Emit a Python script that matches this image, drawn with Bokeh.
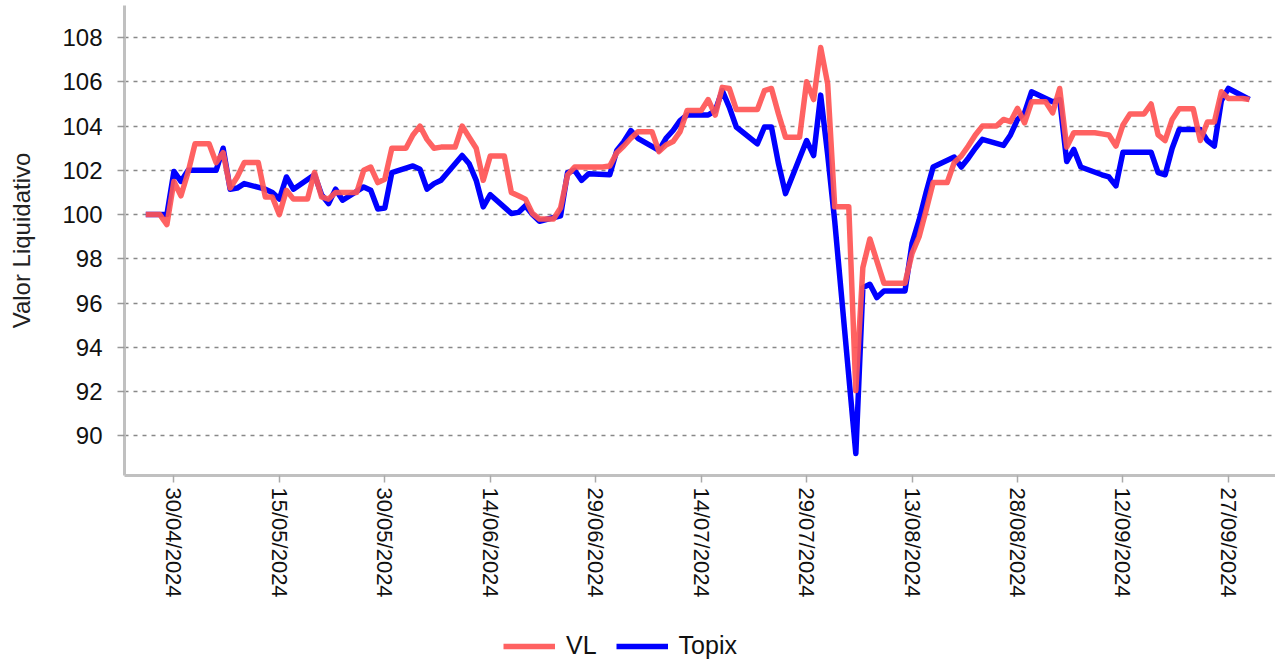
import pandas as pd
from bokeh.plotting import figure
from bokeh.layouts import column
from bokeh.models import (FixedTicker, DatetimeTickFormatter, Legend, LegendItem,
                          Range1d)
from bokeh.embed import file_html
from bokeh.resources import INLINE

# ---------------- data ----------------
# VL: one value per calendar day, 26/04/2024 .. 30/09/2024
vl_start = "2024-04-26"
vl_values = [
    # Apr 26-30
    100.0, 100.0, 100.0, 99.55, 101.5,
    # May
    100.85, 101.9, 103.2, 103.2, 103.2, 102.35, 102.8, 101.2, 101.7, 102.35,
    102.35, 102.35, 100.8, 100.8, 100.0, 101.1, 100.7, 100.7, 100.7, 101.9,
    100.8, 100.7, 101.0, 101.0, 101.0, 101.0, 102.0, 102.15, 101.45, 101.6,
    103.0,
    # Jun
    103.0, 103.0, 103.6, 104.0, 103.4, 103.0, 103.05, 103.05, 103.05, 104.0,
    103.5, 103.0, 101.55, 102.65, 102.65, 102.65, 101.0, 100.85, 100.7, 100.05,
    99.8, 99.8, 99.8, 100.3, 101.8, 102.15, 102.15, 102.15, 102.15, 102.15,
    # Jul
    102.2, 102.8, 103.1, 103.45, 103.75, 103.75, 103.75, 102.85, 103.15, 103.3,
    103.75, 104.7, 104.7, 104.7, 105.2, 104.5, 105.75, 105.7, 104.75, 104.75,
    104.75, 104.75, 105.6, 105.7, 104.55, 103.5, 103.5, 103.5, 106.0, 105.2,
    107.55,
    # Aug
    105.9, 100.35, 100.35, 100.35, 92.05, 97.6, 98.9, 97.9, 96.9, 96.9,
    96.9, 96.9, 98.25, 99.0, 100.2, 101.45, 101.45, 101.45, 102.35, 102.65,
    103.1, 103.6, 104.0, 104.0, 104.0, 104.3, 104.2, 104.8, 104.15, 105.1,
    105.1,
    # Sep
    105.1, 104.6, 105.7, 103.05, 103.7, 103.7, 103.7, 103.7, 103.65, 103.6,
    103.1, 104.05, 104.55, 104.55, 104.55, 105.0, 103.6, 103.35, 104.3, 104.78,
    104.78, 104.78, 103.35, 104.18, 104.18, 105.55, 105.25, 105.25, 105.25, 105.2,
]

# Topix: one value per weekday, 26/04/2024 .. 30/09/2024
topix_start = "2024-04-26"
topix_values = [
    # Apr 26, 29, 30
    100.0, 100.0, 101.95,
    # May
    101.5, 102.0, 102.0, 102.0, 103.0, 101.15, 101.2, 101.4, 101.15, 101.0,
    100.7, 101.7, 101.15, 101.8, 100.9, 100.5, 101.15, 100.65, 101.25, 101.1,
    100.25, 100.3, 101.9,
    # Jun
    102.2, 102.05, 101.15, 101.4, 101.55, 102.67, 102.3, 101.55, 100.35, 100.9,
    100.05, 100.1, 100.4, 100.0, 99.7, 99.95, 101.9, 102.0, 101.55, 101.85,
    # Jul
    101.8, 102.9, 103.3, 103.8, 103.45, 102.9, 103.45, 103.8, 104.25, 104.5,
    104.5, 104.7, 105.6, 104.86, 103.96, 103.2, 103.96, 103.96, 102.3, 100.95,
    103.35, 102.67, 105.4,
    # Aug
    102.7, 99.7, 89.2, 96.7, 96.85, 96.25, 96.55, 96.55, 98.7, 99.75,
    101.0, 102.15, 102.6, 102.15, 102.55, 103.0, 103.4, 103.13, 103.6, 104.3,
    104.6, 105.55,
    # Sep
    105.1, 105.2, 102.4, 102.95, 102.15, 101.8, 101.7, 101.3, 102.82, 102.82,
    102.82, 101.9, 101.8, 103.0, 103.85, 103.85, 103.35, 103.1, 105.15, 105.7,
    105.2,
]

x_tick_dates = ["2024-04-30", "2024-05-15", "2024-05-30", "2024-06-14",
                "2024-06-29", "2024-07-14", "2024-07-29", "2024-08-13",
                "2024-08-28", "2024-09-12", "2024-09-27"]
y_ticks = [90, 92, 94, 96, 98, 100, 102, 104, 106, 108]

series_names = ["VL", "Topix"]
y_axis_title = "Valor Liquidativo"

# ---------------- build ----------------
vl_dates = pd.date_range(vl_start, periods=len(vl_values), freq="D")
topix_dates = pd.bdate_range(topix_start, periods=len(topix_values))

FONT = "Liberation Sans"
RED = "#ff5555"
BLUE = "#0000ff"
W = 1275
LW = 5.5

x_range = Range1d(pd.Timestamp("2024-04-22 23:17"), pd.Timestamp("2024-10-03 16:48"))

p = figure(width=W, height=617, output_backend="svg", toolbar_location=None,
           x_axis_type="datetime", x_range=x_range,
           y_range=Range1d(88.21, 109.45),
           min_border_left=124, min_border_right=0, min_border_top=5,
           min_border_bottom=142)
p.outline_line_color = None
p.background_fill_color = "white"
p.border_fill_color = "white"

blue = p.line(topix_dates, topix_values, line_width=LW, line_color=BLUE,
              line_join="round")
red = p.line(vl_dates, vl_values, line_width=LW, line_color=RED,
             line_alpha=0.92, line_join="round")

# x axis
xa = p.xaxis[0]
xa.ticker = FixedTicker(ticks=[pd.Timestamp(d).value / 1e6 for d in x_tick_dates])
fmt = "%d/%m/%Y"
xa.formatter = DatetimeTickFormatter(milliseconds=fmt, seconds=fmt, minsec=fmt,
                                     minutes=fmt, hourmin=fmt, hours=fmt,
                                     days=fmt, months=fmt, years=fmt)
xa.major_label_orientation = "vertical"
xa.major_label_text_font = FONT
xa.major_label_text_font_size = "22px"
xa.major_label_text_color = "#111111"
xa.major_label_standoff = 5
xa.axis_line_color = "#c0c0c0"
xa.axis_line_width = 3
xa.major_tick_line_color = "#aaaaaa"
xa.major_tick_line_width = 1.5
xa.major_tick_in = 0
xa.major_tick_out = 7
xa.minor_tick_line_color = None

# y axis
ya = p.yaxis[0]
ya.ticker = FixedTicker(ticks=y_ticks)
ya.major_label_text_font = FONT
ya.major_label_text_font_size = "24px"
ya.major_label_text_color = "#111111"
ya.major_label_standoff = 15
ya.axis_line_color = "#c0c0c0"
ya.axis_line_width = 3
ya.major_tick_line_color = "#999999"
ya.major_tick_line_width = 1.5
ya.major_tick_in = 0
ya.major_tick_out = 7
ya.minor_tick_line_color = None
ya.axis_label = y_axis_title
ya.axis_label_text_font = FONT
ya.axis_label_text_font_size = "24px"
ya.axis_label_text_font_style = "normal"
ya.axis_label_text_color = "#222222"
ya.axis_label_standoff = 24

p.xgrid.visible = False
p.ygrid.grid_line_color = "#888888"
p.ygrid.grid_line_dash = "4 5"
p.ygrid.grid_line_width = 1.5

# legend strip below the chart (same series, drawn out of this strip's view)
lg = figure(width=W, height=44, output_backend="svg", toolbar_location=None,
            x_axis_type=None, y_axis_type=None,
            x_range=x_range, y_range=Range1d(0, 1),
            min_border_left=124, min_border_right=0, min_border_top=0,
            min_border_bottom=0)
lg.outline_line_color = None
lg.grid.visible = False
lg_red = lg.line(vl_dates, vl_values, line_width=LW, line_color=RED, line_alpha=0.92)
lg_blue = lg.line(topix_dates, topix_values, line_width=LW, line_color=BLUE)

legend = Legend(items=[LegendItem(label=series_names[0], renderers=[lg_red]),
                       LegendItem(label=series_names[1], renderers=[lg_blue])],
                location=(379, 1), orientation="horizontal")
legend.label_text_font = FONT
legend.label_text_font_size = "25px"
legend.label_text_color = "#111111"
legend.glyph_width = 52
legend.glyph_height = 24
legend.label_standoff = 11
legend.spacing = 19
legend.padding = 2
legend.margin = 0
legend.border_line_color = None
legend.background_fill_alpha = 0
lg.add_layout(legend)

layout = column(p, lg, spacing=0)
open("out.html", "w").write(file_html(layout, INLINE))
